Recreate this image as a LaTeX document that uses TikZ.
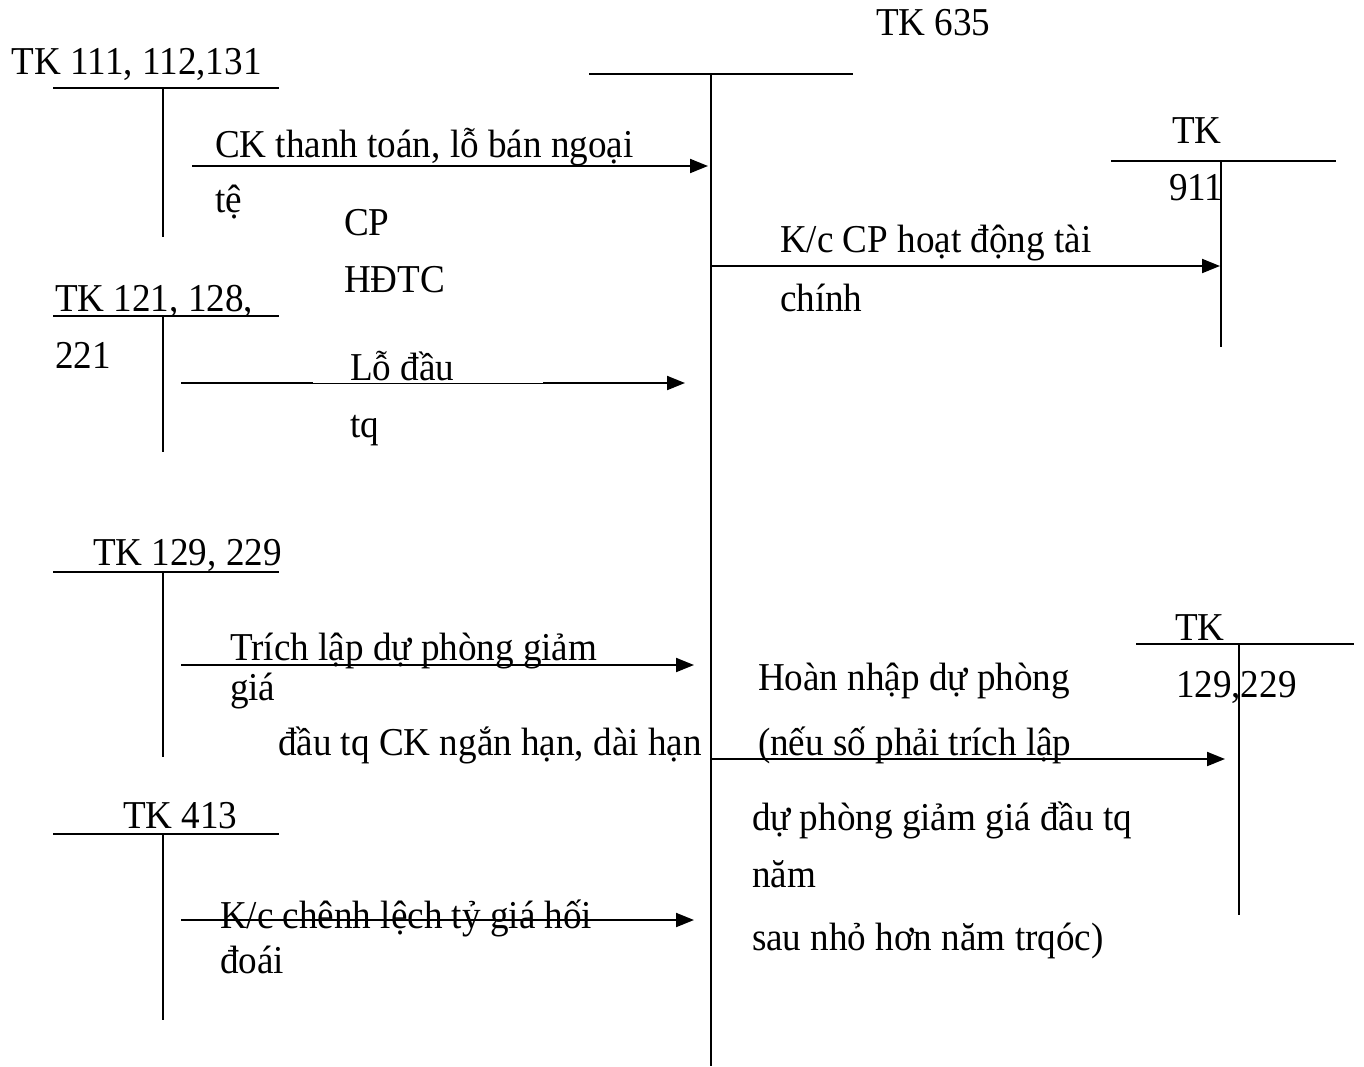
\documentclass[tikz,border=0pt]{standalone}
\usepackage{fontspec}
\setmainfont{Liberation Serif}[FakeStretch=0.94]
\usetikzlibrary{arrows.meta}
\tikzset{
  lbl/.style={anchor=base west, inner sep=0pt, outer sep=0pt, font=\fontsize{39.5}{44}\selectfont},
  tline/.style={line width=2pt},
  flow/.style={line width=2pt, -{Triangle[length=18pt,width=14pt]}},
  thinflow/.style={line width=1pt}
}
\begin{document}
\begin{tikzpicture}[x=1pt,y=-1pt]
\useasboundingbox (0,0) rectangle (1364,1066);
% ---- T-account TK 111,112,131
\node[lbl] (l111) at (12,74) {TK 111, 112,131};
\draw[tline] (53,88) -- (279,88);
\draw[tline] (163,88) -- (163,237);
% ---- main TK 635
\node[lbl] (l635) at (876,35) {TK 635};
\draw[tline] (589,74) -- (853,74);
\draw[tline] (711,74) -- (711,1066);
% ---- arrow 1
\coordinate (a1s) at (192,166);
\coordinate (a1e) at (708,166);
\draw[flow] (a1s) -- (a1e);
\node[lbl] (t1a) at (215,157) {CK thanh toán, lỗ bán ngoại};
\node[lbl] (t1b) at (215,212) {tệ};
\node[lbl] (cp) at (344,235) {CP};
\node[lbl] (hdtc) at (344,292) {HĐTC};
% ---- TK 911
\node[lbl] (l911a) at (1172,143) {TK};
\draw[tline] (1111,161) -- (1336,161);
\draw[tline] (1221,161) -- (1221,347);
\node[lbl] (l911b) at (1169,200) {911};
\coordinate (a2s) at (711,266);
\coordinate (a2e) at (1220,266);
\draw[flow] (a2s) -- (a2e);
\node[lbl] (t2a) at (780,252) {K/c CP hoạt động tài};
\node[lbl] (t2b) at (780,311) {chính};
% ---- TK 121,128,221
\node[lbl] (l121a) at (55,311) {TK 121, 128,};
\draw[tline] (53,316) -- (279,316);
\draw[tline] (163,316) -- (163,452);
\node[lbl] (l121b) at (55,368) {221};
\coordinate (a3s) at (181,383);
\coordinate (a3m1) at (313,383);
\coordinate (a3m2) at (543,383);
\coordinate (a3e) at (685,383);
\draw[thinflow] (a3m1) -- (a3m2);
\draw[tline] (a3s) -- (a3m1);
\draw[flow] (a3m2) -- (a3e);
\node[lbl] (t3a) at (350,380) {Lỗ đầu};
\node[lbl] (t3b) at (350,437) {tq};
% ---- TK 129,229 left
\node[lbl] (l129) at (93,565) {TK 129, 229};
\draw[tline] (53,572) -- (279,572);
\draw[tline] (163,572) -- (163,757);
\coordinate (a4s) at (181,665);
\coordinate (a4e) at (694,665);
\draw[flow] (a4s) -- (a4e);
\node[lbl] (t4a) at (230,660) {Trích lập dự phòng giảm};
\node[lbl] (t4b) at (230,700) {giá};
\node[lbl] (t4c) at (278,755) {đầu tq CK ngắn hạn, dài hạn};
% ---- TK 413
\node[lbl] (l413) at (123,828) {TK 413};
\draw[tline] (53,834) -- (279,834);
\draw[tline] (163,834) -- (163,1020);
\coordinate (a5s) at (181,920);
\coordinate (a5e) at (694,920);
\draw[flow] (a5s) -- (a5e);
\node[lbl] (t5a) at (220,928) {K/c chênh lệch tỷ giá hối};
\node[lbl] (t5b) at (220,973) {đoái};
% ---- TK 129,229 right
\node[lbl] (r129a) at (1175,640) {TK};
\draw[tline] (1136,644) -- (1354,644);
\draw[tline] (1239,644) -- (1239,915);
\node[lbl] (r129b) at (1176,697) {129,229};
\coordinate (a6s) at (711,759);
\coordinate (a6e) at (1225,759);
\draw[flow] (a6s) -- (a6e);
\node[lbl] (t6a) at (758,690) {Hoàn nhập dự phòng};
\node[lbl] (t6b) at (758,755) {(nếu số phải trích lập};
\node[lbl] (t6c) at (752,830) {dự phòng giảm giá đầu tq};
\node[lbl] (t6d) at (752,887) {năm};
\node[lbl] (t6e) at (752,950) {sau nhỏ hơn năm trqóc)};
\end{tikzpicture}
\end{document}
